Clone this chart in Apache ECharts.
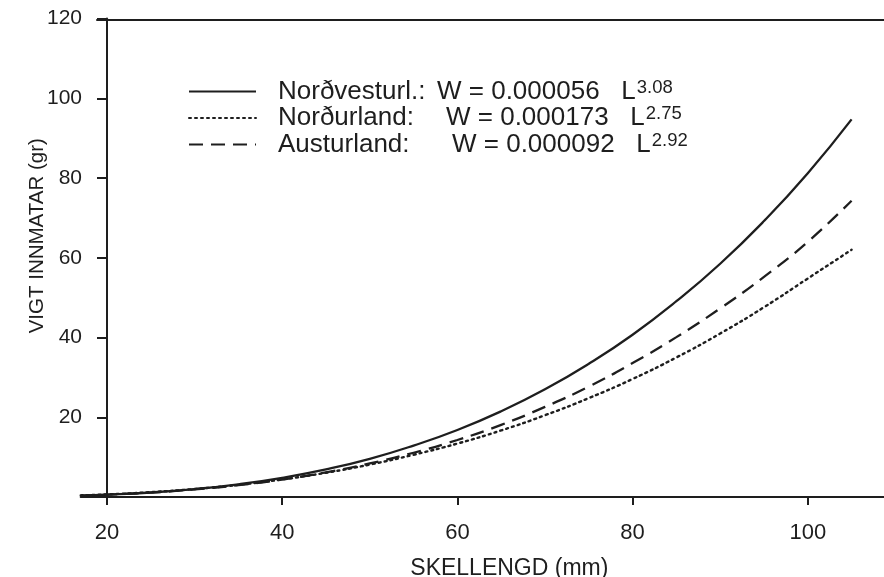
<!DOCTYPE html>
<html>
<head>
<meta charset="utf-8">
<script src="https://cdn.jsdelivr.net/npm/echarts@6/dist/echarts.min.js"></script>
<style>html,body{margin:0;padding:0;background:#fff}#c{width:884px;height:577px}</style>
</head>
<body>
<div id="c"></div>
<script>
// Shell length (mm)
const lengths = [17, 20, 25, 30, 35, 40, 45, 50, 55, 60, 65, 70, 75, 80, 85, 90, 95, 100, 105];
// Meat weight (gr)
const nordvesturland = [0.35, 0.57, 1.13, 1.99, 3.19, 4.82, 6.92, 9.57, 12.9, 16.8, 21.5, 27.0, 33.4, 40.7, 49.1, 58.5, 69.2, 81.2, 94.7];
const nordurland    = [0.42, 0.65, 1.21, 2.00, 3.05, 4.40, 6.09, 8.13, 10.6, 13.4, 16.7, 20.5, 24.8, 29.6, 35.0, 41.0, 47.6, 54.8, 62.0];
const austurland    = [0.36, 0.58, 1.11, 1.89, 2.97, 4.38, 6.18, 8.41, 11.1, 14.3, 18.1, 22.6, 27.7, 33.6, 40.1, 47.3, 55.2, 64.0, 74.3];
const xTicks = [20, 40, 60, 80, 100];
const yTicks = [20, 40, 60, 80, 100, 120];
const seriesNames = ['Norðvesturl.', 'Norðurland', 'Austurland'];
const eqLabel = ['Norðvesturl.:', 'Norðurland:', 'Austurland:'];
const eqFormula = ['W = 0.000056   L', 'W = 0.000173   L', 'W = 0.000092   L'];
const eqExponent = ['3.08', '2.75', '2.92'];

const FONT = '"Liberation Sans", Arial, Helvetica, sans-serif';
const INK = '#1e1e1e';
const chart = echarts.init(document.getElementById('c'), null, {renderer: 'canvas'});

function pairs(ys) { return lengths.map((x, i) => [x, ys[i]]); }

const lineTypes = ['solid', [2, 4], [14, 8]];
const dataSets = [nordvesturland, nordurland, austurland];
const nameWidths = [159, 168, 174];

const rich = {
  t: {fontFamily: FONT, fontSize: 26, color: INK, lineHeight: 27},
  s: {fontFamily: FONT, fontSize: 18.5, color: INK, padding: [0, 0, 0, 1], lineHeight: 6, verticalAlign: 'top'}
};
nameWidths.forEach((w, i) => {
  rich['n' + i] = {fontFamily: FONT, fontSize: 26, color: INK, lineHeight: 27, width: w};
});

chart.setOption({
  animation: false,
  backgroundColor: '#fff',
  textStyle: {fontFamily: FONT, color: INK},
  grid: [
    {left: 80.7, right: 0, top: 18.5, bottom: 80, containLabel: false, outerBoundsMode: 'none'},
    {left: 97, right: 0, top: 18.5, height: 1, containLabel: false, outerBoundsMode: 'none'}
  ],
  legend: {
    orient: 'vertical',
    left: 183, top: 73,
    itemWidth: 67, itemHeight: 14, itemGap: 0,
    data: seriesNames,
    selectedMode: false,
    itemStyle: {opacity: 0},
    formatter: function (name) {
      const i = seriesNames.indexOf(name);
      return '{n' + i + '|' + eqLabel[i] + '}{t|' + eqFormula[i] + '}{s|' + eqExponent[i] + '}';
    },
    textStyle: {padding: [0, 0, 0, 17], rich: rich}
  },
  xAxis: [{
    type: 'value', min: 17, max: 108.7, position: 'bottom', gridIndex: 0,
    axisLine: {show: true, lineStyle: {color: INK, width: 2}},
    axisTick: {show: true, inside: false, length: 8, lineStyle: {color: INK, width: 2}, customValues: xTicks},
    axisLabel: {show: true, customValues: xTicks, fontSize: 22, color: INK, fontFamily: FONT, margin: 25},
    splitLine: {show: false},
    name: 'SKELLENGD (mm)', nameLocation: 'middle', nameGap: 60, nameMoveOverlap: false,
    nameTextStyle: {fontSize: 23, color: INK, fontFamily: FONT, padding: [0, 0, 0, 54]}
  }, {
    type: 'value', min: 0, max: 1, position: 'top', gridIndex: 1,
    axisLine: {show: true, lineStyle: {color: INK, width: 2}},
    axisTick: {show: false}, axisLabel: {show: false}, splitLine: {show: false}
  }],
  yAxis: [{
    type: 'value', min: 0, max: 120, interval: 20, offset: -26.3, gridIndex: 0,
    axisLine: {show: true, lineStyle: {color: INK, width: 2}},
    axisTick: {show: true, length: 10, lineStyle: {color: INK, width: 2}, customValues: yTicks},
    axisLabel: {fontSize: 21, color: INK, fontFamily: FONT, margin: 25, customValues: yTicks},
    splitLine: {show: false},
    name: 'VIGT INNMATAR (gr)', nameLocation: 'middle', nameGap: 59, nameRotate: 90, nameMoveOverlap: false,
    nameTextStyle: {fontSize: 20.5, color: INK, fontFamily: FONT, padding: [0, 0, 0, 44]}
  }, {
    type: 'value', min: 0, max: 1, gridIndex: 1, show: false
  }],
  series: seriesNames.map((n, i) => ({
    name: n, type: 'line', smooth: true, symbol: 'none', showSymbol: false,
    xAxisIndex: 0, yAxisIndex: 0,
    data: pairs(dataSets[i]),
    lineStyle: {color: INK, width: i === 1 ? 2.4 : 2.3, type: lineTypes[i], cap: i === 1 ? 'round' : 'butt'},
    itemStyle: {color: INK},
    clip: false
  }))
});
</script>
</body>
</html>
